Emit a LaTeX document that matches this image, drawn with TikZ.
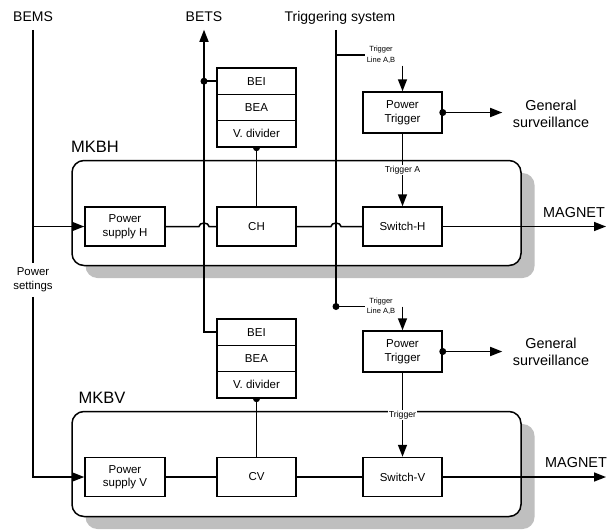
\documentclass[tikz,border=0pt]{standalone}
\usepackage{fontspec}
\setmainfont{Liberation Sans}
\usetikzlibrary{positioning, arrows.meta, shadows, calc}
\tikzset{
    on grid,
    >={Triangle[length=12pt, width=9pt]},
    block/.style={draw, minimum width=79pt, minimum height=39pt, align=center, font=\fontsize{11.5}{13.5}\selectfont},
    slot/.style={draw, minimum width=79pt, minimum height=26.3pt, font=\fontsize{11.5}{13.5}\selectfont},
    module/.style={draw, rounded corners=12pt, minimum width=449pt, minimum height=105pt, fill=white,
        drop shadow={shadow xshift=13.5pt, shadow yshift=-12.5pt, fill=black!25, opacity=1}},
    modname/.style={font=\fontsize{16.5}{18}\selectfont},
    toplabel/.style={font=\fontsize{14}{16}\selectfont, anchor=base, text depth=3pt, inner sep=5pt},
    outlabel/.style={font=\fontsize{14.4}{16.5}\selectfont, align=center, inner xsep=10pt},
    sig/.style={font=\fontsize{8.7}{10}\selectfont, fill=white, inner sep=1pt},
    trigline/.style={font=\fontsize{7.5}{10.5}\selectfont, align=center, inner sep=1.5pt},
    dot/.style={circle, fill, inner sep=0pt, minimum size=7pt},
}
\begin{document}
\begin{tikzpicture}[x=1pt, y=1pt, line width=1.5pt]
        \useasboundingbox (0,0) rectangle (607,-530);
        \node[module] (mkbh) at (296.5,-213) {};
        \node[module] (mkbv) at (296.5,-464) {};
        \node[modname] (mkbhname) at (95,-147) {MKBH};
        \node[modname] (mkbvname) at (102,-398) {MKBV};
        \node[toplabel] (bems) at (33,-21) {BEMS};
        \node[toplabel] (bets) at (204,-21) {BETS};
        \node[toplabel] (trigsys) at (340,-21) {Triggering system};
        \node[align=center, inner sep=4pt, font=\fontsize{11.4}{14}\selectfont] (pset) at (33,-280) {Power\\settings};
        \node[block, minimum width=80pt] (psh) at (125,-226.5) {Power\\supply H};
        \node[block, right=131.5pt of psh] (ch) {CH};
        \node[block, right=146pt of ch] (swh) {Switch-H};
        \node[block, minimum height=41pt, above=114pt of swh] (pth) {Power\\Trigger};
        \node[slot, above=92.7pt of ch] (vdivh) {V. divider};
        \node[slot, above=26.3pt of vdivh] (beah) {BEA};
        \node[slot, above=26.3pt of beah] (beih) {BEI};
        \node[block, minimum width=80pt] (psv) at (125,-477) {Power\\supply V};
        \node[block, right=131.5pt of psv] (cv) {CV};
        \node[block, right=146pt of cv] (swv) {Switch-V};
        \node[block, minimum height=41pt, above=125.5pt of swv] (ptv) {Power\\Trigger};
        \node[slot, above=92.2pt of cv] (vdivv) {V. divider};
        \node[slot, above=26.3pt of vdivv] (beav) {BEA};
        \node[slot, above=26.3pt of beav] (beiv) {BEI};
        \node[trigline] (tlh) at (381,-55) {Trigger\\Line A,B};
        \node[trigline] (tlv) at (381,-306.5) {Trigger\\Line A,B};
        \node[outlabel] (gsh) at (551,-114) {General\\surveillance};
        \node[outlabel] (gsv) at (551,-352) {General\\surveillance};
        \node[outlabel] (magh) at (574,-213) {MAGNET};
        \node[outlabel] (magv) at (576,-463) {MAGNET};
        \coordinate (maghend) at (606,-226.5);
        \coordinate (magvend) at (606,-477);
        \coordinate (tsturn) at (336,-306.5);

    \draw (bems.south) -- (pset.north);
    \draw[->] (pset.south) |- (psv.west);
    \draw[->] (bems.south |- psh.west) -- (psh.west);
    \draw[->] (beiv.west) -| (bets.south);
    \draw (bets.south |- beih.west) -- (beih.west);
    \draw (trigsys.south -| tsturn) -- (tsturn) -- (tlv.west);
    \draw (tlh.west -| tsturn) -- (tlh.west);
    \draw (psh.east) -- ($(psh.east -| bets.south)+(-5,0)$)
        arc[start angle=180, end angle=0, x radius=5pt, y radius=3.5pt] -- (ch.west);
    \draw (ch.east) -- ($(ch.east -| tsturn)+(-5,0)$)
        arc[start angle=180, end angle=0, x radius=5pt, y radius=3.5pt] -- (swh.west);
    \draw (psv) -- (cv) -- (swv);
    \path[->]
        (pth) edge node[sig] (trga) {Trigger A} (swh)
        (ptv) edge node[sig] (trgv) {Trigger} (swv)
        (swh) edge (maghend)
        (swv) edge (magvend)
        (pth.east) edge (pth.east -| gsh.west)
        (ptv.east) edge (ptv.east -| gsv.west)
        (vdivh) edge[-] (ch)
        (vdivv) edge[-] (cv);
    \draw[->] (tlh.south -| pth.north) -- (pth.north);
    \draw[->] (tlv.east -| ptv.north) -- (ptv.north);

        \node[dot] (jbeih) at (bets.south |- beih.west) {};
        \node[dot] (jtrig) at (tsturn) {};
        \node[dot] (jgsh) at (pth.east) {};
        \node[dot] (jgsv) at (ptv.east) {};
        \fill (vdivh.south) ++(-3.5pt,0) arc[start angle=180, end angle=360, radius=3.5pt] -- cycle;
        \fill (vdivv.south) ++(-3.5pt,0) arc[start angle=180, end angle=360, radius=3.5pt] -- cycle;
\end{tikzpicture}
\end{document}
